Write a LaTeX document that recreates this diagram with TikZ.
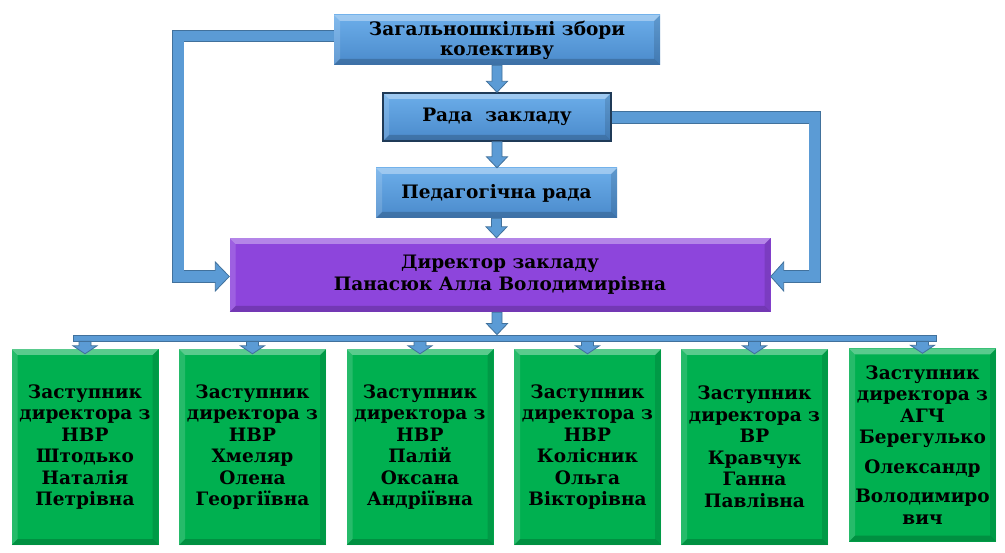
\documentclass[tikz,border=0pt]{standalone}
\usepackage{fontspec}
\setmainfont{DejaVu Serif}
\usetikzlibrary{calc}
\definecolor{schBlue}{HTML}{5B9BD5}
\definecolor{schBlueTop}{HTML}{6CAEEA}
\definecolor{schBlueBot}{HTML}{4A8ACB}
\definecolor{schNavy}{HTML}{1F3A57}
\definecolor{schPurple}{HTML}{8D45DC}
\definecolor{schGreen}{HTML}{00B050}
\definecolor{schEdge}{HTML}{41719C}
\tikzset{
  sch bevel/.style={path picture={
    \fill[white, opacity=.35] let \p1=(path picture bounding box.north west), \p2=(path picture bounding box.south east) in
      (\x1,\y1) -- (\x2,\y1) -- (\x2-6pt,\y1-6pt) -- (\x1+6pt,\y1-6pt) -- cycle;
    \fill[white, opacity=.15] let \p1=(path picture bounding box.north west), \p2=(path picture bounding box.south east) in
      (\x1,\y1) -- (\x1+6pt,\y1-6pt) -- (\x1+6pt,\y2+6pt) -- (\x1,\y2) -- cycle;
    \fill[black, opacity=.12] let \p1=(path picture bounding box.north west), \p2=(path picture bounding box.south east) in
      (\x2,\y1) -- (\x2-6pt,\y1-6pt) -- (\x2-6pt,\y2+6pt) -- (\x2,\y2) -- cycle;
    \fill[black, opacity=.18] let \p1=(path picture bounding box.north west), \p2=(path picture bounding box.south east) in
      (\x1,\y2) -- (\x1+6pt,\y2+6pt) -- (\x2-6pt,\y2+6pt) -- (\x2,\y2) -- cycle;
  }},
  sch box/.style={sch bevel, inner sep=0pt, align=center, font=\fontsize{18.5}{20}\selectfont\bfseries},
  sch blue/.style={sch box, top color=schBlueTop, bottom color=schBlueBot},
  sch head/.style={sch box, fill=schPurple, font=\fontsize{18.5}{22}\selectfont\bfseries},
  sch deputy/.style={sch box, fill=schGreen, minimum width=147pt, minimum height=196pt,
    font=\fontsize{18.5}{21.5}\selectfont\bfseries},
  sch arrow/.style={draw=schEdge, fill=schBlue, line width=0.8pt, line join=miter},
  sch fat/.style={draw=schEdge, line width=0.8pt, double=schBlue, double distance=10.5pt},
  sch bus/.style={draw=schEdge, fill=schBlue, line width=0.8pt, inner sep=0pt,
    minimum width=863pt, minimum height=6pt},
}
% block arrow pointing down: from, to, shaft half, head half, head length
\newcommand{\blkdown}[5]{%
  \draw[sch arrow] let \p1=(#1), \p2=(#2) in
    (\x1-#3,\y1) -- (\x1+#3,\y1) -- (\x1+#3,\y2+#5) -- (\x1+#4,\y2+#5)
    -- (\x1,\y2) -- (\x1-#4,\y2+#5) -- (\x1-#3,\y2+#5) -- cycle;}
% arrow heads for the side connectors
\newcommand{\headright}[1]{%
  \filldraw[sch arrow] let \p1=(#1) in (\x1-14pt,\y1+6pt) -- (\x1-14pt,\y1+14.5pt)
    -- (\x1,\y1) -- (\x1-14pt,\y1-14.5pt) -- (\x1-14pt,\y1-6pt);}
\newcommand{\headleft}[1]{%
  \filldraw[sch arrow] let \p1=(#1) in (\x1+13pt,\y1+6pt) -- (\x1+13pt,\y1+14.5pt)
    -- (\x1,\y1) -- (\x1+13pt,\y1-14.5pt) -- (\x1+13pt,\y1-6pt);}

\begin{document}
\begin{tikzpicture}[x=1pt,y=-1pt]
  \useasboundingbox (0,0) rectangle (1005,553);
  % governing bodies
  \node[sch blue, minimum width=326pt, minimum height=50pt] (zbory) at (497,40)
    {Загальношкільні збори\\колективу};
  \node[sch blue, draw=schNavy, line width=1.4pt, minimum width=228pt, minimum height=48pt] (rada) at (497,117)
    {Рада~~закладу};
  \node[sch blue, minimum width=241pt, minimum height=50pt] (pedrada) at (496.5,193)
    {Педагогічна рада};
  \node[sch head, minimum width=541pt, minimum height=74pt] (dyr) at (500,275)
    {Директор закладу\\Панасюк Алла Володимирівна};
  % bus to the deputies
  \node[sch bus] (bus) at (504.5,338) {};
  % deputies
  \node[sch deputy] (z1) at (85,447)
    {Заступник\\директора з\\НВР\\Штодько\\Наталія\\Петрівна};
  \node[sch deputy] (z2) at (252.5,447)
    {Заступник\\директора з\\НВР\\Хмеляр\\Олена\\Георгіївна};
  \node[sch deputy] (z3) at (420,447)
    {Заступник\\директора з\\НВР\\Палій\\Оксана\\Андріївна};
  \node[sch deputy] (z4) at (587.5,447)
    {Заступник\\директора з\\НВР\\Колісник\\Ольга\\Вікторівна};
  \node[sch deputy] (z5) at (754.5,447)
    {Заступник\\директора з\\ВР\\Кравчук\\Ганна\\Павлівна};
  \node[sch deputy, minimum height=193pt] (z6) at (922.5,445)
    {Заступник\\директора з\\АГЧ\\Берегулько\\[8pt]Олександр\\[8pt]Володимиро\\вич};
  % main vertical arrows
  \blkdown{zbory.south}{rada.north}{5pt}{10.5pt}{11pt}
  \blkdown{rada.south}{pedrada.north}{5pt}{10.5pt}{11pt}
  \blkdown{pedrada.south}{dyr.north}{5pt}{10.5pt}{11pt}
  \blkdown{[xshift=-3pt]dyr.south}{bus.north}{5pt}{10.5pt}{11pt}
  \foreach \i in {1,...,6}
    \blkdown{bus.south -| z\i.north}{[yshift=-5pt]z\i.north}{6pt}{12pt}{8pt};
  % side connectors
  \draw[sch fat] ([yshift=4pt]zbory.west) -| ([xshift=-51pt,yshift=-1.5pt]dyr.west)
    -- ([xshift=-12pt,yshift=-1.5pt]dyr.west);
  \headright{[yshift=-1.5pt]dyr.west}
  \draw[sch fat] ([yshift=-0.5pt]rada.east) -| ([xshift=44pt,yshift=-1.5pt]dyr.east)
    -- ([xshift=11pt,yshift=-1.5pt]dyr.east);
  \headleft{[yshift=-1.5pt]dyr.east}
\end{tikzpicture}
\end{document}
